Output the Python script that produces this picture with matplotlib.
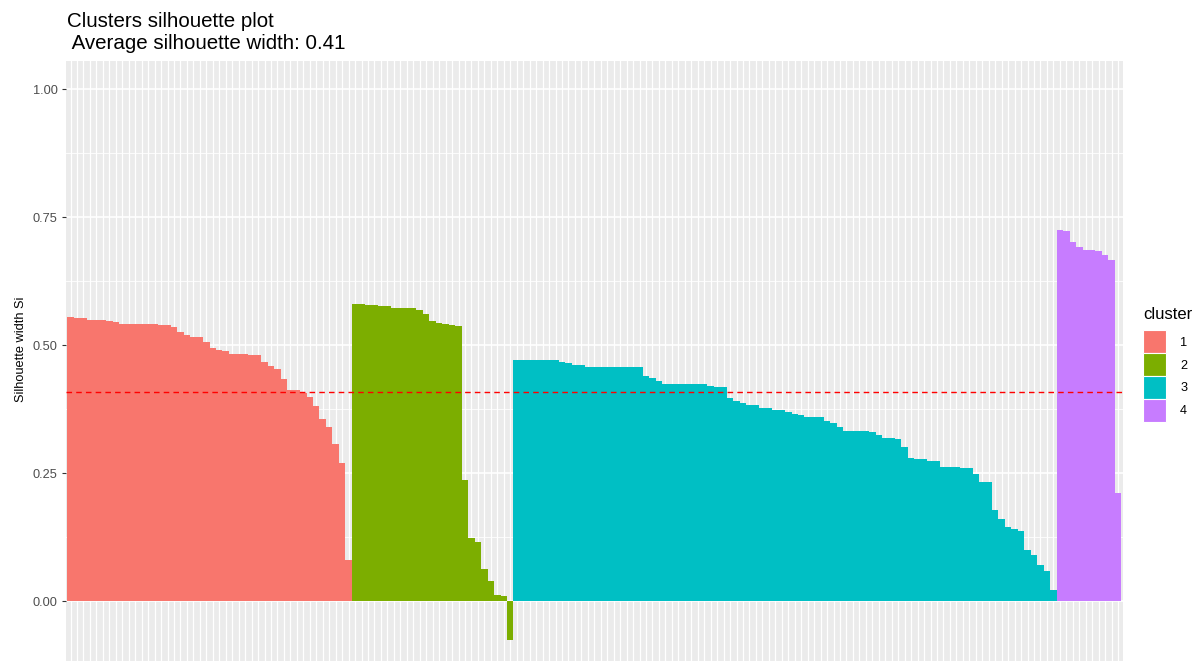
import matplotlib.pyplot as plt
import numpy as np
from matplotlib.patches import Patch

plt.rcParams['font.family'] = ['Liberation Sans', 'DejaVu Sans']

# silhouette widths per cluster, sorted within cluster
sil_1 = [0.555, 0.553, 0.553, 0.549, 0.549, 0.549, 0.547, 0.545,
         0.542, 0.542, 0.542, 0.542, 0.542, 0.542, 0.540, 0.539, 0.535,
         0.525, 0.519, 0.516, 0.516, 0.506, 0.494, 0.490, 0.488, 0.482,
         0.482, 0.482, 0.480, 0.480, 0.467, 0.459, 0.453, 0.434, 0.412,
         0.412, 0.406, 0.398, 0.381, 0.355, 0.340, 0.307, 0.270, 0.080]
sil_2 = [0.580, 0.580, 0.578, 0.578, 0.576, 0.576, 0.573, 0.573, 0.573,
         0.573, 0.569, 0.561, 0.547, 0.544, 0.541, 0.539, 0.537, 0.236,
         0.123, 0.115, 0.062, 0.039, 0.012, 0.010, -0.076]
sil_3 = [0.471, 0.471, 0.471, 0.471, 0.471, 0.471, 0.471, 0.467, 0.465,
         0.461, 0.461, 0.457, 0.457, 0.457, 0.457, 0.457, 0.457, 0.457,
         0.457, 0.457, 0.439, 0.436, 0.430, 0.424, 0.424, 0.424, 0.424,
         0.424, 0.424, 0.424, 0.420, 0.418, 0.418, 0.396, 0.390, 0.387,
         0.382, 0.382, 0.378, 0.378, 0.374, 0.374, 0.369, 0.365, 0.363,
         0.359, 0.359, 0.359, 0.351, 0.348, 0.340, 0.333, 0.333, 0.333,
         0.333, 0.330, 0.324, 0.318, 0.318, 0.316, 0.300, 0.280, 0.277,
         0.277, 0.273, 0.273, 0.262, 0.262, 0.262, 0.260, 0.260, 0.249,
         0.233, 0.233, 0.178, 0.160, 0.145, 0.141, 0.137, 0.100, 0.090,
         0.070, 0.059, 0.022]
sil_4 = [0.724, 0.722, 0.701, 0.691, 0.686, 0.686, 0.684, 0.676, 0.667,
         0.212]

clusters = ['1', '2', '3', '4']
cluster_colors = ['#F8766D', '#7CAE00', '#00BFC4', '#C77CFF']
y_ticks = [0.00, 0.25, 0.50, 0.75, 1.00]

groups = [sil_1, sil_2, sil_3, sil_4]
values = np.concatenate(groups)
colors = np.concatenate([[c] * len(g) for c, g in zip(cluster_colors, groups)])
n = len(values)
x = np.arange(1, n + 1)
avg = values.mean()

fig = plt.figure(figsize=(11.98, 6.61), dpi=100)
ax = fig.add_axes([66 / 1198, 0, (1122.6 - 66) / 1198, 600 / 661])
ax.set_facecolor('#EBEBEB')

# ggplot-like grid
for v in np.arange(0.125, 1.0, 0.25):
    ax.axhline(v, color='white', lw=0.6, zorder=0)
for v in y_ticks:
    ax.axhline(v, color='white', lw=1.2, zorder=0)
for xi in x:
    ax.axvline(xi, color='white', lw=0.9, zorder=0)

ax.bar(x, values, width=1.0, color=colors, linewidth=0, zorder=2)
ax.axhline(avg, color='red', lw=1.0, linestyle=(0, (4, 3)), zorder=3)

ax.set_xlim(0.3, n + 0.7)
ax.set_ylim(-0.117, 1.0547)
ax.set_xticks([])
ax.set_yticks(y_ticks)
ax.set_yticklabels([f'{v:.2f}' for v in y_ticks])
ax.tick_params(axis='y', labelsize=9.2, labelcolor='#4D4D4D', color='#333333',
               length=3, width=0.8, pad=3)
for s in ax.spines.values():
    s.set_visible(False)
ax.set_ylabel('Silhouette width Si', fontsize=9.2)
ax.yaxis.set_label_coords(-0.037, 0.52)

fig.text(67 / 1198, 1 - 12 / 661,
         'Clusters silhouette plot\n Average silhouette width: %.2f' % avg,
         fontsize=14.8, va='top', ha='left', linespacing=1.18)

handles = [Patch(facecolor=c, edgecolor='white', linewidth=0.8) for c in cluster_colors]
leg = fig.legend(handles, clusters, title='cluster', loc='upper left',
                 bbox_to_anchor=(1143 / 1198, 1 - 307 / 661), frameon=False,
                 fontsize=9.2, title_fontsize=12, handlelength=1.8,
                 handleheight=2.35, labelspacing=0.02, handletextpad=1.1,
                 borderpad=0, borderaxespad=0)
leg._legend_box.align = 'left'
leg._legend_box.sep = 6

fig.savefig('out.png', dpi=100)
